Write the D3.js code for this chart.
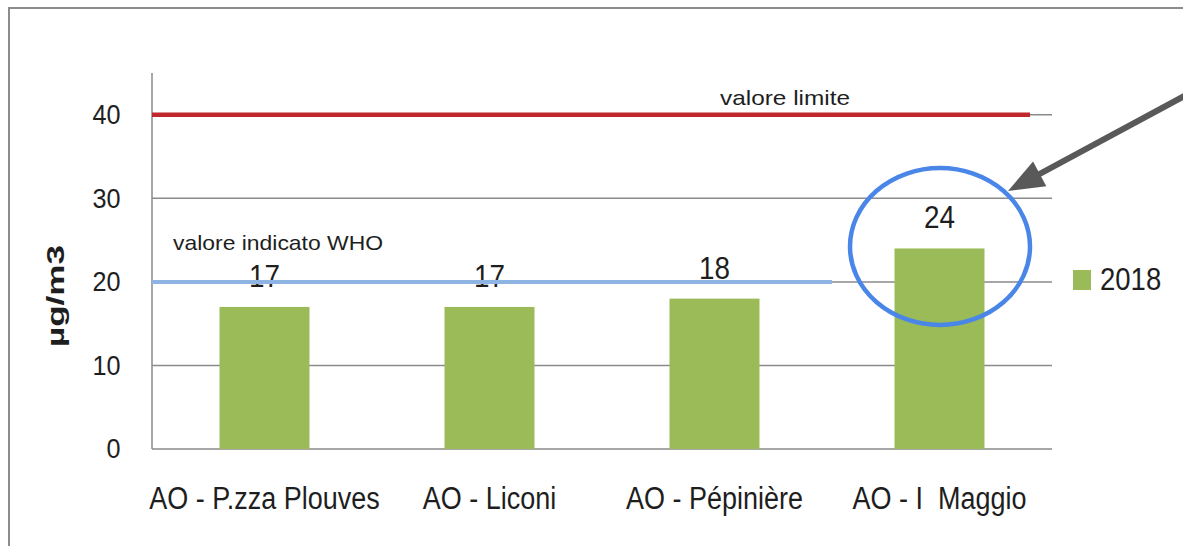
<!DOCTYPE html>
<html>
<head>
<meta charset="utf-8">
<script src="https://cdn.jsdelivr.net/npm/d3@7"></script>
<style>
  body { margin: 0; background: #fff; }
  svg { display: block; font-family: "Liberation Sans", Arial, sans-serif; }
  text { white-space: pre; fill: #1e1e1e; }
</style>
</head>
<body>
<svg class="chart"></svg>
<script>
// DATA /////////////////////////////////////////
const categories = ["AO - P.zza Plouves", "AO - Liconi", "AO - Pépinière", "AO - I  Maggio"];
const values2018 = [17, 17, 18, 24];
const yTicks = [0, 10, 20, 30, 40];
const seriesName = "2018";
const yLabel = "µg/m3";
const limitValue = 40;
const limitLabel = "valore limite";
const whoValue = 20;
const whoLabel = "valore indicato WHO";
const highlightIndex = 3;

// DEFINITIONS /////////////////////////////////
const W = 1183, H = 546;
const margin = { top: 73, bottom: 97, left: 152, right: 131 };
const width = W - margin.left - margin.right;
const height = H - margin.top - margin.bottom;

const green = "#9bbb59";
const gridCol = "#8a8a8a";

const svg = d3.select(".chart").attr("width", W).attr("height", H);

// outer frame of the pasted picture
svg.append("rect")
  .attr("x", 9).attr("y", 8)
  .attr("width", 1200).attr("height", 600)
  .attr("fill", "none").attr("stroke", "#8c8c8c").attr("stroke-width", 2);

const chartG = svg.append("g")
  .attr("transform", `translate(${margin.left}, ${margin.top})`);

// SCALES ///////////////////////////////////////
const x = d3.scaleBand().domain(categories).range([0, width])
  .paddingInner(0.6).paddingOuter(0.3);
const y = d3.scaleLinear().domain([0, 45]).range([height, 0]);

// grid + axis lines
chartG.selectAll(".grid")
  .data(yTicks)
  .join("line")
  .attr("class", "grid")
  .attr("x1", 0).attr("x2", width)
  .attr("y1", (d) => y(d)).attr("y2", (d) => y(d))
  .attr("stroke", gridCol).attr("stroke-width", 1.5);

chartG.append("line")
  .attr("x1", 0).attr("x2", 0)
  .attr("y1", y(0)).attr("y2", y(45))
  .attr("stroke", gridCol).attr("stroke-width", 1.5);

// y axis labels
const yAxisG = chartG.append("g")
  .call(d3.axisLeft(y).tickValues(yTicks).tickSize(0).tickPadding(35));
yAxisG.select(".domain").remove();
yAxisG.selectAll("text")
  .attr("font-size", 28).attr("font-family", null)
  .attr("fill", "#1e1e1e")
  .attr("transform", "scale(0.9,1)");

// x axis labels
const xAxisG = chartG.append("g")
  .attr("transform", `translate(0, ${height})`)
  .call(d3.axisBottom(x).tickSize(0));
xAxisG.select(".domain").remove();
xAxisG.selectAll("text")
  .attr("y", 60).attr("dy", 0)
  .attr("font-size", 31).attr("font-family", null)
  .attr("fill", "#1e1e1e")
  .attr("transform", "scale(0.87,1)");

// bars
chartG.selectAll(".bar")
  .data(values2018)
  .join("rect")
  .attr("class", "bar")
  .attr("x", (d, i) => x(categories[i]))
  .attr("y", (d) => y(d))
  .attr("width", x.bandwidth())
  .attr("height", (d) => y(0) - y(d))
  .attr("fill", green);

// value labels
chartG.selectAll(".val")
  .data(values2018)
  .join("text")
  .attr("class", "val")
  .attr("transform", (d, i) =>
    `translate(${x(categories[i]) + x.bandwidth() / 2}, ${y(d) - 20}) scale(0.87,1)`)
  .attr("text-anchor", "middle")
  .attr("font-size", 32)
  .text((d) => d);

// limit line (red)
chartG.append("line")
  .attr("x1", 0).attr("x2", width * 0.9756)
  .attr("y1", y(limitValue)).attr("y2", y(limitValue))
  .attr("stroke", "#c0282d").attr("stroke-width", 4.5);
chartG.append("text")
  .attr("x", 568).attr("y", y(limitValue) - 10)
  .attr("font-size", 21)
  .attr("textLength", 130).attr("lengthAdjust", "spacingAndGlyphs")
  .text(limitLabel);

// WHO line (blue)
chartG.append("line")
  .attr("x1", 0).attr("x2", width * 0.7556)
  .attr("y1", y(whoValue)).attr("y2", y(whoValue))
  .attr("stroke", "#8db4e2").attr("stroke-width", 4);
chartG.append("text")
  .attr("x", 21).attr("y", y(whoValue) - 32)
  .attr("font-size", 21)
  .attr("textLength", 210).attr("lengthAdjust", "spacingAndGlyphs")
  .text(whoLabel);

// y title
svg.append("text")
  .attr("transform", "translate(63.5, 296) rotate(-90)")
  .attr("text-anchor", "middle")
  .attr("font-size", 23).attr("font-weight", "bold")
  .attr("textLength", 102).attr("lengthAdjust", "spacingAndGlyphs")
  .text(yLabel);

// legend
const legG = svg.append("g").attr("transform", "translate(1073, 270)");
legG.append("rect").attr("width", 18).attr("height", 20).attr("fill", green);
legG.append("text")
  .attr("transform", "translate(27, 20) scale(0.86,1)")
  .attr("font-size", 32)
  .text(seriesName);

// HIGHLIGHT ////////////////////////////////////
const hx = margin.left + x(categories[highlightIndex]) + x.bandwidth() / 2;
svg.append("ellipse")
  .attr("cx", hx + 0.5).attr("cy", 246.5)
  .attr("rx", 90).attr("ry", 78.5)
  .attr("fill", "none").attr("stroke", "#4a86e8").attr("stroke-width", 4.5);

// arrow
const tip = [1008, 191];
const start = [1190, 93];
const len = Math.hypot(tip[0] - start[0], tip[1] - start[1]);
const u = [(tip[0] - start[0]) / len, (tip[1] - start[1]) / len];
const nrm = [-u[1], u[0]];
const headLen = 36, headHalf = 14;
const base = [tip[0] - u[0] * headLen, tip[1] - u[1] * headLen];
svg.append("line")
  .attr("x1", start[0]).attr("y1", start[1])
  .attr("x2", base[0] + u[0] * 2).attr("y2", base[1] + u[1] * 2)
  .attr("stroke", "#595959").attr("stroke-width", 6);
svg.append("path")
  .attr("d", d3.line()([
    tip,
    [base[0] + nrm[0] * headHalf, base[1] + nrm[1] * headHalf],
    [base[0] - nrm[0] * headHalf, base[1] - nrm[1] * headHalf]
  ]) + "Z")
  .attr("fill", "#595959");
</script>
</body>
</html>
